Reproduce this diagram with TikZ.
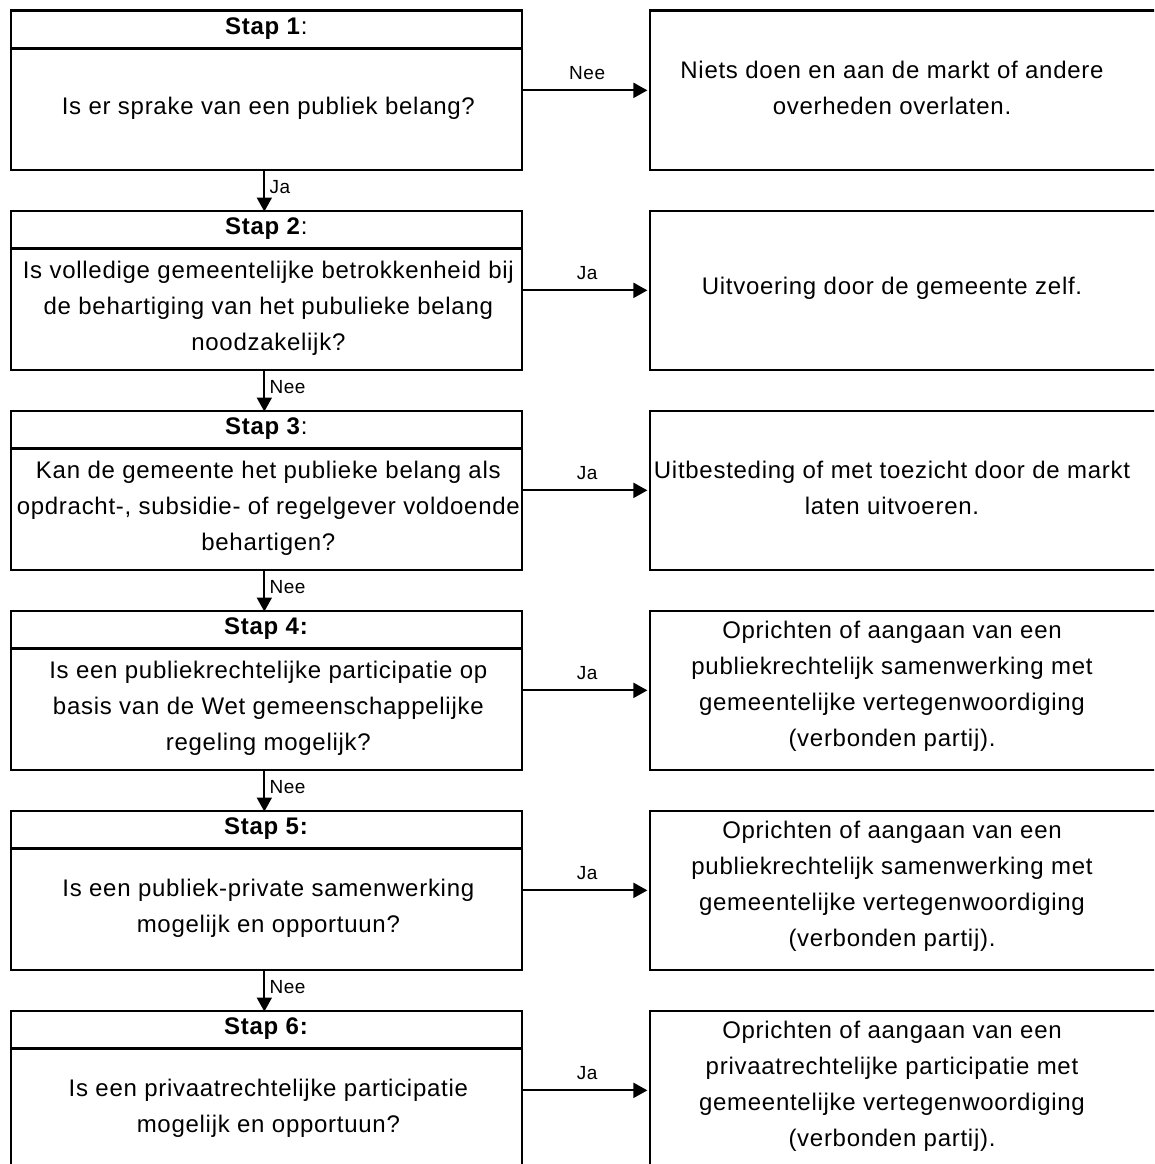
\documentclass[tikz,border=0pt]{standalone}
\usepackage{fontspec}
\setmainfont{Liberation Sans}[LetterSpace=3]
\usetikzlibrary{arrows.meta}
\tikzset{
  box/.style={draw, line width=2.7pt, minimum width=511pt, minimum height=159pt, inner sep=0pt, anchor=north west},
  sepline/.style={line width=2.7pt},
  conn/.style={line width=2pt, -{Triangle[length=14pt,width=15pt]}, shorten >=1.3pt},
  qtext/.style={font=\fontsize{24}{36}\selectfont, align=center, inner sep=0pt},
  htext/.style={font=\fontsize{24}{26}\selectfont, inner sep=0pt},
  lbl/.style={font=\fontsize{19}{20}\selectfont, inner sep=0pt},
}
\begin{document}
\begin{tikzpicture}[x=1pt,y=-1pt]
\fill[white] (0,0) rectangle (1154,1164);
\clip (0,0) rectangle (1154,1164);
% boxes
\foreach \i in {1,...,6}{
  \pgfmathsetmacro\t{9.5+200*(\i-1)}
  \node[box] (L\i) at (9.5,\t) {};
  \node[box] (R\i) at (648.7,\t) {};
  \draw[sepline] ([yshift=-39pt]L\i.north west) -- ([yshift=-39pt]L\i.north east);
}
% headers
\node[htext] (H1) at ([yshift=-19.5pt]L1.north) {\textbf{Stap 1}:};
\node[htext] (H2) at ([yshift=-19.5pt]L2.north) {\textbf{Stap 2}:};
\node[htext] (H3) at ([yshift=-19.5pt]L3.north) {\textbf{Stap 3}:};
\node[htext] (H4) at ([yshift=-19.5pt]L4.north) {\textbf{Stap 4:}};
\node[htext] (H5) at ([yshift=-19.5pt]L5.north) {\textbf{Stap 5:}};
\node[htext] (H6) at ([yshift=-19.5pt]L6.north) {\textbf{Stap 6:}};
% questions
\node[qtext] (Q1) at ([xshift=2pt,yshift=-99pt]L1.north) {Is er sprake van een publiek belang?};
\node[qtext] (Q2) at ([xshift=2pt,yshift=-99pt]L2.north) {Is volledige gemeentelijke betrokkenheid bij\\de behartiging van het pubulieke belang\\noodzakelijk?};
\node[qtext] (Q3) at ([xshift=2pt,yshift=-99pt]L3.north) {Kan de gemeente het publieke belang als\\opdracht-, subsidie- of regelgever voldoende\\behartigen?};
\node[qtext] (Q4) at ([xshift=2pt,yshift=-99pt]L4.north) {Is een publiekrechtelijke participatie op\\basis van de Wet gemeenschappelijke\\regeling mogelijk?};
\node[qtext] (Q5) at ([xshift=2pt,yshift=-99pt]L5.north) {Is een publiek-private samenwerking\\mogelijk en opportuun?};
\node[qtext] (Q6) at ([xshift=2pt,yshift=-99pt]L6.north) {Is een privaatrechtelijke participatie\\mogelijk en opportuun?};
% outcomes
\node[qtext] (T1) at (892,88) {Niets doen en aan de markt of andere\\overheden overlaten.};
\node[qtext] (T2) at (892,288) {Uitvoering door de gemeente zelf.};
\node[qtext] (T3) at (892,488) {Uitbesteding of met toezicht door de markt\\laten uitvoeren.};
\node[qtext] (T4) at (892,686) {Oprichten of aangaan van een\\publiekrechtelijk samenwerking met\\gemeentelijke vertegenwoordiging\\(verbonden partij).};
\node[qtext] (T5) at (892,886) {Oprichten of aangaan van een\\publiekrechtelijk samenwerking met\\gemeentelijke vertegenwoordiging\\(verbonden partij).};
\node[qtext] (T6) at (892,1086) {Oprichten of aangaan van een\\privaatrechtelijke participatie met\\gemeentelijke vertegenwoordiging\\(verbonden partij).};
% horizontal connectors
\foreach \i/\lab in {1/Nee,2/Ja,3/Ja,4/Ja,5/Ja,6/Ja}{
  \draw[conn] (L\i.east) -- (R\i.west);
  \node[lbl] (HL\i) at ([xshift=64pt,yshift=17pt]L\i.east) {\lab};
}
% vertical connectors
\foreach \i/\j/\lab in {1/2/Ja,2/3/Nee,3/4/Nee,4/5/Nee,5/6/Nee}{
  \draw[conn, shorten >=-2pt] ([xshift=-2pt]L\i.south) -- ([xshift=-2pt]L\j.north);
  \node[lbl, anchor=west] (VL\i) at ([xshift=3pt,yshift=-16pt]L\i.south) {\lab};
}
\end{tikzpicture}
\end{document}
